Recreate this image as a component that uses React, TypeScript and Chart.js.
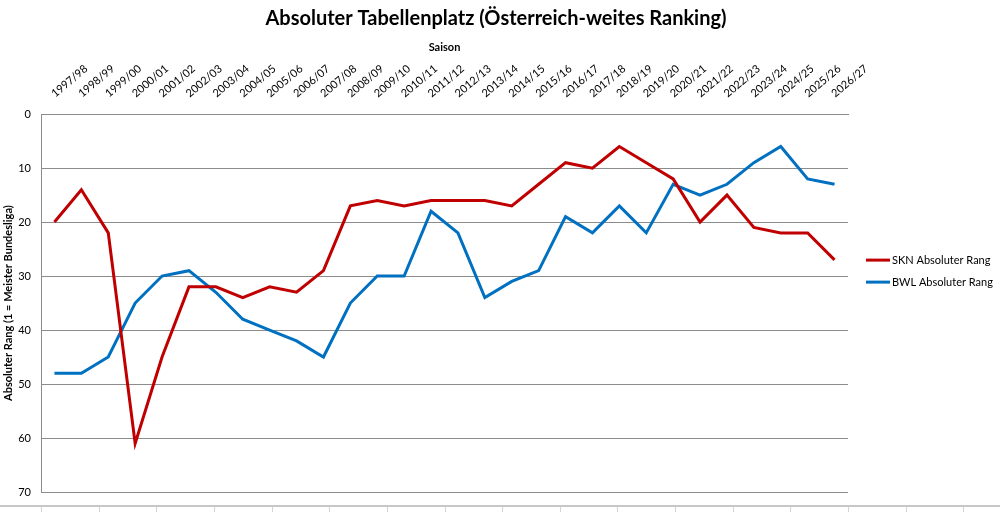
import React, { useEffect, useRef } from "react";
import Chart from "chart.js/auto";

const seasons = [
  "1997/98", "1998/99", "1999/00", "2000/01", "2001/02", "2002/03", "2003/04", "2004/05",
  "2005/06", "2006/07", "2007/08", "2008/09", "2009/10", "2010/11", "2011/12", "2012/13",
  "2013/14", "2014/15", "2015/16", "2016/17", "2017/18", "2018/19", "2019/20", "2020/21",
  "2021/22", "2022/23", "2023/24", "2024/25", "2025/26", "2026/27",
];

const sknRang = [
  20, 14, 22, 61, 45, 32, 32, 34, 32, 33, 29, 17, 16, 17, 16, 16,
  16, 17, 13, 9, 10, 6, 9, 12, 20, 15, 21, 22, 22, 27,
];

const bwlRang = [
  48, 48, 45, 35, 30, 29, 33, 38, 40, 42, 45, 35, 30, 30, 18, 22,
  34, 31, 29, 19, 22, 17, 22, 13, 15, 13, 9, 6, 12, 13,
];

const yTicks = [0, 10, 20, 30, 40, 50, 60, 70];

const FONT = "Lato, 'Open Sans', sans-serif";
const GRID = "#8c8c8c";

// legend drawn at the right, next to the plot (like the Excel original)
const sideLegend = {
  id: "sideLegend",
  afterDraw(chart: any) {
    const { ctx, chartArea } = chart;
    ctx.save();
    ctx.font = `11px ${FONT}`;
    ctx.textBaseline = "middle";
    ctx.fillStyle = "#000";
    chart.data.datasets.forEach((ds: any, i: number) => {
      const x = chartArea.right + 18;
      const y = chartArea.top + 146 + i * 22;
      ctx.strokeStyle = ds.borderColor;
      ctx.lineWidth = 3;
      ctx.beginPath();
      ctx.moveTo(x, y);
      ctx.lineTo(x + 24, y);
      ctx.stroke();
      ctx.fillText(ds.label, x + 26, y);
    });
    ctx.restore();
  },
};

// frame line of the sheet below the chart
const bottomFrame = {
  id: "bottomFrame",
  afterDraw(chart: any) {
    const { ctx, chartArea, width, height } = chart;
    const y = height - 6;
    ctx.save();
    ctx.strokeStyle = "#b4b4b4";
    ctx.lineWidth = 1.5;
    ctx.beginPath();
    ctx.moveTo(0, y);
    ctx.lineTo(width, y);
    ctx.stroke();
    ctx.strokeStyle = "#d4d4d4";
    ctx.lineWidth = 1;
    const step = (chartArea.right - chartArea.left) / 14;
    for (let x = chartArea.left; x < width; x += step) {
      ctx.beginPath();
      ctx.moveTo(Math.round(x) + 0.5, y + 1);
      ctx.lineTo(Math.round(x) + 0.5, height);
      ctx.stroke();
    }
    ctx.restore();
  },
};

function RankChart() {
  const chartRef = useRef<HTMLCanvasElement | null>(null);
  const chartInstanceRef = useRef<Chart | null>(null);

  useEffect(() => {
    if (!chartRef.current) return;
    if (chartInstanceRef.current) chartInstanceRef.current.destroy();

    chartInstanceRef.current = new Chart(chartRef.current, {
      type: "line",
      data: {
        labels: seasons,
        datasets: [
          {
            label: "SKN Absoluter Rang",
            data: sknRang,
            borderColor: "#c00000",
            backgroundColor: "#c00000",
            borderWidth: 3,
            pointRadius: 0,
            tension: 0,
          },
          {
            label: "BWL Absoluter Rang",
            data: bwlRang,
            borderColor: "#0070c0",
            backgroundColor: "#0070c0",
            borderWidth: 3,
            pointRadius: 0,
            tension: 0,
          },
        ],
      },
      options: {
        responsive: true,
        maintainAspectRatio: false,
        animation: false,
        layout: {
          padding: { top: 0, left: 2, right: 10, bottom: 20 },
        },
        plugins: {
          legend: { display: false },
          tooltip: { enabled: false },
          title: {
            display: true,
            text: "Absoluter Tabellenplatz (Österreich-weites Ranking)",
            color: "#000",
            font: { family: FONT, size: 20, weight: "bold" },
            padding: { top: 7, bottom: 10 },
          },
        },
        scales: {
          x: {
            type: "category",
            position: "top",
            offset: true,
            grid: { display: false },
            border: { display: true, color: GRID },
            ticks: {
              autoSkip: false,
              minRotation: 40,
              maxRotation: 40,
              padding: 6,
              labelOffset: 7,
              color: "#000",
              font: { family: FONT, size: 11 },
            },
            title: {
              display: true,
              text: "Saison",
              color: "#000",
              font: { family: FONT, size: 11, weight: "bold" },
              padding: { top: 0, bottom: 2 },
            },
          },
          y: {
            reverse: true,
            min: 0,
            max: 70,
            afterBuildTicks: (axis: any) => {
              axis.ticks = yTicks.map((v) => ({ value: v }));
            },
            afterFit: (axis: any) => {
              axis.width = 39;
            },
            grid: { color: GRID, drawTicks: false, lineWidth: 1 },
            border: { display: true, color: GRID },
            ticks: {
              padding: 10,
              color: "#000",
              font: { family: FONT, size: 11 },
            },
            title: {
              display: true,
              text: "Absoluter Rang (1 = Meister Bundesliga)",
              color: "#000",
              font: { family: FONT, size: 11, weight: "bold" },
              padding: { top: 0, bottom: 2 },
            },
          },
          // empty axis on the right, keeps room for the legend
          side: {
            type: "linear",
            position: "right",
            min: 0,
            max: 70,
            grid: { display: false },
            border: { display: false },
            ticks: { display: false },
            afterFit: (axis: any) => {
              axis.width = 142;
            },
          },
        },
      },
      plugins: [sideLegend, bottomFrame],
    });

    return () => {
      if (chartInstanceRef.current) {
        chartInstanceRef.current.destroy();
        chartInstanceRef.current = null;
      }
    };
  }, []);

  return <canvas ref={chartRef}></canvas>;
}

export default function App() {
  return (
    <div
      style={{
        position: "fixed",
        left: 0,
        top: 0,
        width: 1000,
        height: 512,
        background: "#fff",
      }}
    >
      <RankChart />
    </div>
  );
}
